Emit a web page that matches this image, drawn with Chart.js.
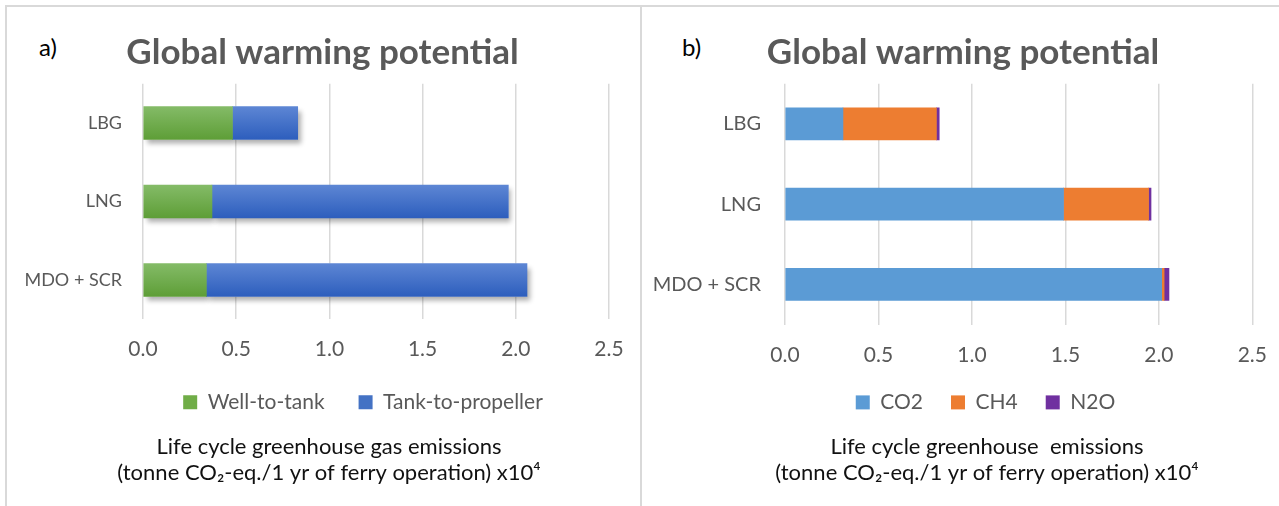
<!DOCTYPE html>
<html>
<head>
<meta charset="utf-8">
<script src="https://cdn.jsdelivr.net/npm/chart.js@4.4.1/dist/chart.umd.min.js"></script>
<style>
  body { margin: 0; background: #fff; overflow: hidden; width: 1279px; height: 506px; position: relative; }
  .frame { position: absolute; border-top: 2px solid #d9d9d9; border-left: 2px solid #d9d9d9; }
  .tag { position: absolute; font: 24px Lato, "Noto Sans", sans-serif; color: #000; line-height: 1; }
  canvas { position: absolute; }
</style>
</head>
<body>
<div class="frame" style="left:5px;top:5px;width:640px;height:520px"></div>
<div class="frame" style="left:640px;top:5px;width:700px;height:520px"></div>
<div class="tag" style="left:39px;top:35px">a)</div>
<div class="tag" style="left:682px;top:35px">b)</div>
<canvas id="chartA" width="635" height="500" style="left:6px;top:6px"></canvas>
<canvas id="chartB" width="644" height="500" style="left:641px;top:6px"></canvas>
<script>
const fuels = ['LBG', 'LNG', 'MDO + SCR'];
const xTicks = [0, 0.5, 1, 1.5, 2, 2.5];

// a) split by life cycle stage
const wellToTank = [0.48, 0.37, 0.34];
const tankToPropeller = [0.35, 1.59, 1.72];

// b) split by gas
const co2 = [0.31, 1.49, 2.015];
const ch4 = [0.50, 0.455, 0.013];
const n2o = [0.015, 0.013, 0.026];

const font = 'Lato, "Noto Sans", sans-serif';
const grey = '#595959';

// vertical gradient for each bar of chart a, placed from the category scale
const barGradient = (top, bottom, thickness) => (ctx) => {
  const chart = ctx.chart;
  const y = chart.scales.y ? chart.scales.y.getPixelForValue(ctx.dataIndex) : NaN;
  if (!chart.chartArea || !isFinite(y)) return bottom;
  const g = chart.ctx.createLinearGradient(0, y - thickness / 2, 0, y + thickness / 2);
  g.addColorStop(0, top);
  g.addColorStop(1, bottom);
  return g;
};

const barShadow = {
  id: 'barShadow',
  beforeDatasetsDraw(chart, args, opts) {
    if (!opts.on) return;
    const ctx = chart.ctx;
    ctx.save();
    ctx.shadowColor = 'rgba(0,0,0,0.32)';
    ctx.shadowBlur = 5;
    ctx.shadowOffsetX = 3;
    ctx.shadowOffsetY = 4;
    ctx.fillStyle = '#fff';
    chart.getSortedVisibleDatasetMetas().forEach(meta => {
      meta.data.forEach(bar => {
        const p = bar.getProps(['x', 'y', 'base', 'height'], true);
        ctx.fillRect(Math.min(p.x, p.base), p.y - p.height / 2, Math.abs(p.x - p.base), p.height);
      });
    });
    ctx.restore();
  }
};

// shift title / legend / subtitle like in the original figure
const nudge = {
  id: 'nudge',
  afterLayout(chart, args, opts) {
    const move = (box, dx, dy) => {
      if (!box) return;
      box.left += dx || 0; box.right += dx || 0;
      box.top += dy || 0; box.bottom += dy || 0;
    };
    move(chart.titleBlock, opts.title);
    move(chart.legend, opts.legend, opts.legendY);
    const sub = chart.boxes.find(b => b.position === 'bottom' && b !== chart.legend && !(b instanceof Chart.Scale));
    move(sub, opts.subtitle);
  }
};

function makeChart(id, datasets, setup) {
  return new Chart(document.getElementById(id), {
    type: 'bar',
    data: { labels: fuels, datasets: datasets },
    plugins: [barShadow, nudge],
    options: {
      indexAxis: 'y',
      responsive: false,
      animation: false,
      layout: { padding: { left: 0, right: setup.padRight, top: 0, bottom: 0 } },
      scales: {
        x: {
          stacked: true,
          min: xTicks[0],
          max: xTicks[xTicks.length - 1],
          ticks: {
            stepSize: xTicks[1] - xTicks[0],
            padding: setup.xPad,
            color: grey,
            font: { family: font, size: 21 },
            callback: v => Number(v).toFixed(1)
          },
          grid: { color: '#d9d9d9', lineWidth: 1.5, drawTicks: false },
          border: { display: false },
          afterFit: s => { s.height = 46; }
        },
        y: {
          stacked: true,
          ticks: { padding: setup.yPad, color: grey, font: { family: font, size: setup.catSize } },
          grid: { display: false, drawTicks: false },
          border: { display: false },
          afterFit: s => { s.width = setup.yWidth; }
        }
      },
      plugins: {
        title: {
          display: true,
          text: 'Global warming potential',
          color: grey,
          font: { family: font, size: 35, weight: 'bold', lineHeight: 1.2 },
          padding: { top: 26, bottom: 9.75 }
        },
        subtitle: {
          display: true,
          position: 'bottom',
          text: setup.axisTitle,
          color: '#111',
          font: { family: font, size: 22, lineHeight: 1.2 },
          padding: { top: 10.3, bottom: 19.4 }
        },
        legend: {
          position: 'bottom',
          maxHeight: setup.legendHeight,
          labels: {
            color: grey,
            font: { family: font, size: 21 },
            boxWidth: 14,
            boxHeight: 14,
            padding: setup.legendGap,
            generateLabels: (chart) => Chart.defaults.plugins.legend.labels.generateLabels(chart)
              .map((item, i) => Object.assign(item, { fillStyle: chart.data.datasets[i].legendColor, strokeStyle: 'rgba(0,0,0,0)', lineWidth: 0 }))
          }
        },
        tooltip: { enabled: false },
        barShadow: { on: setup.shadow },
        nudge: setup.nudge
      }
    }
  });
}

makeChart('chartA', [
  { label: 'Well-to-tank', data: wellToTank, legendColor: '#70ad47',
    backgroundColor: barGradient('#84bb67', '#5e9e37', 33), barThickness: 33 },
  { label: 'Tank-to-propeller', data: tankToPropeller, legendColor: '#4472c4',
    backgroundColor: barGradient('#5d86d4', '#2d5ebd', 33), barThickness: 33 }
], {
  padRight: 32, yWidth: 137, yPad: 21, catSize: 18, xPad: 17, legendGap: 34, legendHeight: 58.25, shadow: true,
  nudge: { title: 15, legend: 55.5, legendY: -7.5, subtitle: 21.5 },
  axisTitle: ['Life cycle greenhouse gas emissions', '(tonne CO\u2082-eq./1 yr of ferry operation) x10\u2074']
});

makeChart('chartB', [
  { label: 'CO2', data: co2, legendColor: '#5b9bd5', backgroundColor: '#5b9bd5', barThickness: 32 },
  { label: 'CH4', data: ch4, legendColor: '#ed7d31', backgroundColor: '#ed7d31', barThickness: 32 },
  { label: 'N2O', data: n2o, legendColor: '#7030a0', backgroundColor: '#7030a0', barThickness: 32 }
], {
  padRight: 31, yWidth: 144, yPad: 24, catSize: 20, xPad: 18, legendGap: 28, legendHeight: 53, shadow: false,
  nudge: { title: 15.5, legend: 38, legendY: -6.6, subtitle: 39.5 },
  axisTitle: ['Life cycle greenhouse  emissions', '(tonne CO\u2082-eq./1 yr of ferry operation) x10\u2074']
});
</script>
</body>
</html>
